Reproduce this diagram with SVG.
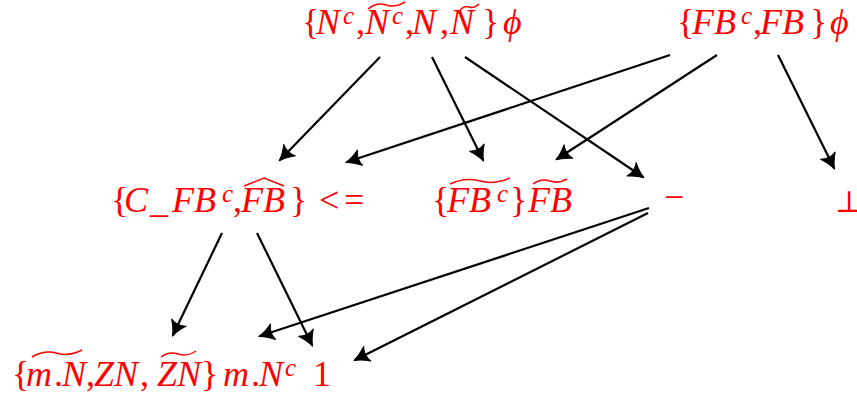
<svg xmlns="http://www.w3.org/2000/svg" width="857" height="399" viewBox="0 0 857 399">
<defs>
<style>
text{font-family:"Liberation Serif","DejaVu Serif",serif;fill:#ff0000;font-size:36px}
.i{font-style:italic}
.s{font-size:25px;font-style:italic}
.acc{fill:none;stroke:#ff0000;stroke-width:1.5}
.e{fill:none;stroke:#000;stroke-width:2.2;marker-end:url(#ah)}
</style>
<marker id="ah" markerUnits="userSpaceOnUse" markerWidth="20" markerHeight="20" viewBox="-14 -8 16 16" refX="0" refY="0" orient="auto">
<path d="M1,0 C-3,-1.2 -7,-3.5 -11,-6.5 C-9,-2.5 -9,2.5 -11,6.5 C-7,3.5 -3,1.2 1,0 Z" fill="#000" stroke="#000" stroke-width="0.8" stroke-linejoin="round"/>
</marker>
</defs>
<rect width="857" height="399" fill="#fff"/>
<g id="connectors">
<line class="e" x1="380" y1="57" x2="280" y2="160"/>
<line class="e" x1="432" y1="57" x2="483" y2="160"/>
<line class="e" x1="465" y1="57" x2="643" y2="177"/>
<line class="e" x1="670" y1="55" x2="347" y2="162"/>
<line class="e" x1="717" y1="55" x2="557" y2="159"/>
<line class="e" x1="778" y1="55" x2="834" y2="168"/>
<line class="e" x1="222" y1="233" x2="173" y2="335"/>
<line class="e" x1="257" y1="233" x2="312" y2="345"/>
<line class="e" x1="649" y1="208" x2="260" y2="336"/>
<line class="e" x1="648" y1="213" x2="355" y2="360"/>
</g>
<g id="n1">
<text y="34"><tspan x="302">{</tspan><tspan x="316" class="i">N</tspan><tspan x="343" y="24" class="s">c</tspan><tspan x="356" y="34">,</tspan><tspan x="365" class="i">N</tspan><tspan x="392" y="24" class="s">c</tspan><tspan x="405" y="34">,</tspan><tspan x="412" class="i">N</tspan><tspan x="440">,</tspan><tspan x="450" class="i">N</tspan><tspan x="482">}</tspan><tspan x="503" class="i">ϕ</tspan></text>
<path class="acc" d="M368,9 Q377,2 386,5 Q395,8 405,2"/>
<path class="acc" d="M460,10 Q465,5 469,7 Q474,9 479,4"/>
</g>
<g id="n2">
<text y="34"><tspan x="677">{</tspan><tspan x="692" class="i">FB</tspan><tspan x="741" y="24" class="s">c</tspan><tspan x="753" y="34">,</tspan><tspan x="760" class="i">FB</tspan><tspan x="810">}</tspan><tspan x="830" class="i">ϕ</tspan></text>
</g>
<g id="n3">
<text y="212"><tspan x="111">{</tspan><tspan x="124" class="i">C</tspan><tspan x="150">_</tspan><tspan x="172" class="i">FB</tspan><tspan x="222" y="202" class="s">c</tspan><tspan x="233" y="212">,</tspan><tspan x="241" class="i">FB</tspan><tspan x="290">}</tspan><tspan x="319">&lt;</tspan><tspan x="344">=</tspan></text>
<path class="acc" d="M244,186 L264,178 L284,186"/>
</g>
<g id="n4">
<text y="212"><tspan x="432">{</tspan><tspan x="447" class="i">FB</tspan><tspan x="497" y="202" class="s">c</tspan><tspan x="510" y="212">}</tspan><tspan x="528" class="i">FB</tspan></text>
<path class="acc" d="M450,184 Q465,177 480,181 Q495,185 510,178"/>
<path class="acc" d="M533,184 Q541,178 550,181 Q559,184 567,179"/>
</g>
<g id="n5">
<text x="664" y="209">−</text>
</g>
<g id="n6">
<text x="835" y="212" style="font-family:'DejaVu Serif',serif;font-size:30px">⊥</text>
</g>
<g id="n7">
<text y="386"><tspan x="12">{</tspan><tspan x="26" class="i">m</tspan><tspan x="54">.</tspan><tspan x="62" class="i">N</tspan><tspan x="86">,</tspan><tspan x="94" class="i">Z</tspan><tspan x="114" class="i">N</tspan><tspan x="140">,</tspan><tspan x="157" class="i">Z</tspan><tspan x="177" class="i">N</tspan><tspan x="201">}</tspan><tspan x="223" class="i">m</tspan><tspan x="251">.</tspan><tspan x="259" class="i">N</tspan><tspan x="285" y="376" class="s">c</tspan><tspan x="313" y="386">1</tspan></text>
<path class="acc" d="M32,357 Q44,350 56,353 Q68,357 82,350"/>
<path class="acc" d="M161,357 Q169,351 178,354 Q187,357 196,351"/>
</g>
</svg>
